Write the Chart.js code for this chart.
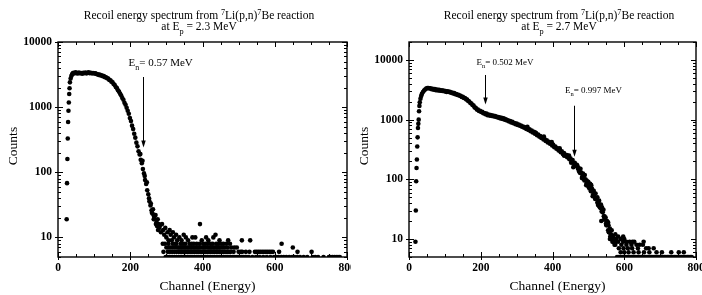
<!DOCTYPE html>
<html><head><meta charset="utf-8">
<script src="https://cdn.jsdelivr.net/npm/chart.js@4"></script>
<style>
html,body{margin:0;padding:0;background:#fff;overflow:hidden;}
#wrap{position:relative;width:702px;height:295px;background:#fff;}
canvas{position:absolute;top:0;}
#c1{left:0}
#c2{left:351px}
</style></head><body>
<div id="wrap"><canvas id="c1" width="351" height="295"></canvas><canvas id="c2" width="351" height="295"></canvas></div>
<script>
// ---------- tick labels ----------
const xTicks = [0, 200, 400, 600, 800];
const yTicks = [10, 100, 1000, 10000];

// ---------- LEFT: Ep = 2.3 MeV ----------
const leftCh = [24,25,26,27,28,29,30,31,32,33,35,37,39,41,
 43,46,49,52,55,58,61,64,67,70,73,76,79,82,85,88,91,94,97,100,103,106,
 109,112,115,118,121,124,127,130,133,136,139,142,145,148,151,154,157,160,163,166,169,172,175,178,181,184,187,190,193,196,199,202,205,208,211,214,217,220,223,226,229,232,235,238,241,244,247,250,253,256,259,262,265,268,271,274,277,280];
const leftCounts = [19,68,160,330,590,880,1180,1590,1950,2400,2750,3000,3180,3300,
 3380,3300,3420,3330,3280,3400,3320,3350,3260,3380,3310,3400,3300,3360,3420,3320,3380,3300,3350,3280,3320,3240,
 3200,3130,3160,3060,3080,2980,2990,2880,2870,2770,2740,2620,2590,2460,2400,2260,2190,2040,1960,1820,1730,1600,1510,1380,1300,1170,1090,980,880,790,680,610,520,460,390,340,285,250,210,188,155,138,112,96,76,66,53,46,36,31,26,23,19,19,16,15,13,14];
// scattered tail points (channel, counts)
const leftScatterCh = [228,234,240,246,252,257,260,263,266,270,273,276,279,282,285,288,291,294,297,300,303,306,309,312,315,318,321,324,327,330,336,342,348,354,360,372,380,393,398,410,416,430,436,447,471,509,532,619,650];
const leftScatterCounts = [190,150,88,70,40,33,24,27,21,22,17,19,16,15,12,16,13,11,14,10,12,9,13,11,9,12,10,8,11,9,10,9,11,10,9,10,10,16,9,10,9,10,11,9,9,9,9,8,7];
// integer-count rows of the flat tail (channels)
const leftRow8 = [290,296,306,318,328,340,346,352,364,370,376,384,392,402,408,414,422,428,438,444,452,458,466,476];
const leftRow7 = [300,306,312,318,324,330,334,338,342,346,350,354,358,362,366,370,374,378,382,386,390,394,400,404,408,414,418,422,426,430,434,438,442,446,450,456,462,470,480,488,495];
const leftRow6 = [292,304,310,316,322,328,334,338,342,346,350,354,358,362,366,370,374,378,382,386,390,394,398,402,406,410,414,418,422,426,430,434,438,442,446,450,454,458,462,466,470,474,478,486,500,506,510,520,530,545,550,555,560,565,570,575,580,585,590,595,612,663,702];
const leftRow5 = [298,303,308,313,318,323,328,333,338,343,348,353,358,363,368,373,378,383,388,393,398,403,408,413,418,423,428,433,438,443,448,453,458,463,468,473,478,483,488,493,498,503,508,513,518,523,528,538,548,558,568,578,588,598,604,610,618,625,632,640,648,655,662,670,680,690,705,712,720,735,750,755,760,765,770,775,780];

// ---------- RIGHT: Ep = 2.7 MeV ----------
const rightCh = [18,19,20,21,22,23,24,25,26,27,28,29,30,32,34,36,39,42,45,48,51,54,57,
 60,63,66,69,72,75,78,81,84,87,90,93,96,99,102,105,108,111,114,117,120,123,126,129,132,135,138,141,144,147,150,153,156,159,162,165,168,171,174,177,180,183,186,189,192,195,198,201,204,207,210,213,216,219,222,225,228,231,234,237,240,243,246,249,252,255,258,261,264,267,270,273,276,279,282,285,288,291,294,297,300,
 303,306,309,312,315,318,321,324,327,330,333,336,339,342,345,348,351,354,357,360,363,366,369,372,375,378,381,384,387,390,393,396,399,402,405,408,411,414,417,420,423,426,429,432,435,438,441,444,447,450,453,456,459,462,465,468,471,474,477,480,483,486,489,492,495,498,501,504,507,510,513,516,519,522,525,528,531,534,537,540,543,546,549,552,555,558,561,564,567,570,573];
const rightCounts = [9,30,93,155,215,355,505,725,850,1000,1380,1700,1950,2250,2500,2700,2900,3080,3200,3330,3380,3400,3320,
 3350,3230,3300,3180,3250,3120,3200,3080,3150,3050,3100,3030,3060,2980,3020,2920,2990,2900,2920,2820,2850,2750,2780,2670,2690,2590,2610,2510,2500,2400,2410,2300,2300,2190,2170,2050,2020,1900,1870,1760,1720,1600,1580,1480,1470,1400,1410,1340,1350,1280,1290,1230,1260,1190,1220,1170,1200,1150,1170,1130,1150,1110,1120,1080,1100,1050,1070,1030,1050,1000,1010,970,980,930,950,900,920,870,880,840,860,
 815,830,790,800,760,770,730,745,700,715,670,690,640,655,610,625,580,595,550,565,520,530,495,500,465,475,440,450,415,425,395,400,370,380,345,355,325,330,305,315,285,295,265,275,250,255,235,240,218,225,203,210,188,190,168,175,150,152,128,130,112,115,96,100,84,86,74,75,63,66,55,56,47,48,41,40,35,33,29,28,24,22,18,17,14,13,11,10,9,9,8];
const rightScatterCh = [330,352,376,398,420,432,440,446,452,458,464,470,474,478,482,485,488,490,494,495,498,500,503,505,508,510,512,515,518,520,525,527,530,532,535,536,538,542,544,545,548,550,552,555,556,557,560,563,565,566,569,571,575,576,583,597,623];
const rightScatterCounts = [760,610,520,420,330,250,255,250,190,160,175,165,135,150,105,125,100,118,80,95,92,90,70,84,80,70,52,64,50,58,50,37,44,34,38,20,34,31,21,24,23,17,20,19,17,13,15,12,14,11,11,10,12,9,11,11,9];
const rightRow10 = [560,566,572,578,590,600];
const rightRow9 = [570,583,597,606,615,628,654];
const rightRow8 = [575,592,606,620,634,643,652];
const rightRow7 = [585,598,610,622,638,661,668,682];
const rightRow6 = [590,600,612,626,640,655,670,690,705,731,752,766];
const rightRow5 = [580,585,590,596,600,604,608,612,616,620,624,628,632,636,640,644,648,652,656,660,664,668,672,676,680,684,688,692,696,700,704,708,712,716,720,724,728,732,736,740,744,748,752,756,760,764,768,772,776,780,784,788];

// ---------- helpers ----------
const SERIF = '"Liberation Serif", "Times New Roman", serif';
function pts(ch, counts) { return ch.map((c, i) => ({x: c, y: counts[i]})); }
function row(ch, v) { return ch.map(c => ({x: c, y: v})); }

function richText(ctx, parts, x, y, size, align) {
  const widths = parts.map(p => {
    ctx.font = (p[1] ? size * 0.72 : size) + 'px ' + SERIF;
    return ctx.measureText(p[0]).width;
  });
  const total = widths.reduce((a, b) => a + b, 0);
  let cx = align === 'center' ? x - total / 2 : x;
  parts.forEach((p, i) => {
    ctx.font = (p[1] ? size * 0.72 : size) + 'px ' + SERIF;
    const dy = p[1] === 1 ? -size * 0.38 : (p[1] === -1 ? size * 0.33 : 0);
    ctx.fillText(p[0], cx, y + dy);
    cx += widths[i];
  });
}

const decor = {
  id: 'decor',
  afterDatasetsDraw(chart, args, o) {
    const {ctx, chartArea: a, scales: {x, y}} = chart;
    ctx.save();
    ctx.strokeStyle = '#000';
    ctx.fillStyle = '#000';
    // frame
    ctx.lineWidth = 1.4;
    ctx.strokeRect(a.left, a.top, a.right - a.left, a.bottom - a.top);
    // x ticks (major every 200, minor every 50), mirrored on top
    ctx.lineWidth = 1;
    ctx.beginPath();
    for (let v = 0; v <= 800; v += 50) {
      const px = Math.round(x.getPixelForValue(v)) + 0.5;
      const major = xTicks.includes(v);
      const L = major ? 5 : 3;
      ctx.moveTo(px, a.bottom + (major ? 3 : 0)); ctx.lineTo(px, a.bottom - L);
      ctx.moveTo(px, a.top); ctx.lineTo(px, a.top + L);
    }
    // y ticks (log: major at decades, minor 2..9)
    for (let e = 0; e <= 4; e++) {
      for (let m = 1; m <= 9; m++) {
        const v = m * Math.pow(10, e);
        if (v < y.min || v > y.max) continue;
        const py = Math.round(y.getPixelForValue(v)) + 0.5;
        const major = m === 1;
        const L = major ? 5 : 3;
        ctx.moveTo(a.left - (major ? 3 : 0), py); ctx.lineTo(a.left + L, py);
        ctx.moveTo(a.right, py); ctx.lineTo(a.right - L, py);
      }
    }
    ctx.stroke();
    // arrows + labels
    o.arrows.forEach(ar => {
      const px = Math.round(x.getPixelForValue(ar.ch)) + 0.5;
      const y0 = y.getPixelForValue(ar.from);
      const y1 = y.getPixelForValue(ar.to);
      ctx.lineWidth = 1;
      ctx.beginPath(); ctx.moveTo(px, y0); ctx.lineTo(px, y1 - 3); ctx.stroke();
      ctx.beginPath(); ctx.moveTo(px, y1); ctx.lineTo(px - 2.2, y1 - 7); ctx.lineTo(px + 2.2, y1 - 7); ctx.closePath(); ctx.fill();
      ctx.textAlign = 'left'; ctx.textBaseline = 'alphabetic';
      richText(ctx, [['E', 0], ['n', -1], ['= ' + ar.text, 0]], px + ar.dx, ar.baseline, ar.size, 'left');
    });
    // title
    ctx.textAlign = 'left'; ctx.textBaseline = 'alphabetic';
    richText(ctx, [['Recoil energy spectrum from ', 0], ['7', 1], ['Li(p,n)', 0], ['7', 1], ['Be reaction', 0]], o.titleX, 19, 11.5, 'center');
    richText(ctx, [['at E', 0], ['p', -1], [' = ' + o.ep, 0]], o.titleX, 30, 11.5, 'center');
    // axis titles
    ctx.font = '13.5px ' + SERIF;
    ctx.textAlign = 'center';
    ctx.fillText('Channel (Energy)', (a.left + a.right) / 2 + 5, 290);
    ctx.save();
    ctx.translate(17, 146);
    ctx.rotate(-Math.PI / 2);
    ctx.fillText('Counts', 0, 0);
    ctx.restore();
    ctx.restore();
  }
};

function makeChart(id, datasets, yMax, padRight, decorOpts) {
  const style = {showLine: false, pointRadius: 2.3, pointBorderWidth: 0, pointBackgroundColor: '#000', borderColor: '#000', pointHoverRadius: 2.3};
  return new Chart(document.getElementById(id), {
    type: 'scatter',
    data: {datasets: datasets.map(d => Object.assign({data: d}, style))},
    options: {
      responsive: false, animation: false, devicePixelRatio: 1,
      layout: {padding: {left: 0, top: 42, right: padRight, bottom: 0}},
      plugins: {legend: {display: false}, tooltip: {enabled: false}, decor: decorOpts},
      events: [],
      scales: {
        x: {
          type: 'linear', min: 0, max: 800,
          grid: {display: false, drawTicks: false}, border: {display: false},
          afterBuildTicks: s => { s.ticks = xTicks.map(v => ({value: v})); },
          ticks: {autoSkip: false, maxRotation: 0, padding: 4, color: '#000',
                  font: {family: SERIF, size: 11.5, weight: 'bold'}, callback: v => String(v)},
          afterFit: s => { s.height = 38; s.paddingLeft = 0; s.paddingRight = 0; }
        },
        y: {
          type: 'logarithmic', min: 5, max: yMax,
          grid: {display: false, drawTicks: false}, border: {display: false},
          afterBuildTicks: s => { s.ticks = yTicks.map(v => ({value: v})); },
          ticks: {autoSkip: false, padding: 6, color: '#000',
                  font: {family: SERIF, size: 11.5, weight: 'bold'}, callback: v => String(v)},
          afterFit: s => { s.width = 58; s.paddingTop = 0; s.paddingBottom = 0; }
        }
      }
    },
    plugins: [decor]
  });
}

makeChart('c1', [
  pts(leftCh, leftCounts), pts(leftScatterCh, leftScatterCounts),
  row(leftRow8, 8), row(leftRow7, 7), row(leftRow6, 6), row(leftRow5, 5)
], 10000, 4, {
  titleX: 199, ep: '2.3 MeV',
  arrows: [{ch: 234, from: 2900, to: 240, text: '0.57 MeV', dx: -15, baseline: 66, size: 11}]
});

makeChart('c2', [
  pts(rightCh, rightCounts), pts(rightScatterCh, rightScatterCounts),
  row(rightRow10, 10), row(rightRow9, 9), row(rightRow8, 8), row(rightRow7, 7), row(rightRow6, 6), row(rightRow5, 5)
], 20000, 6, {
  titleX: 208, ep: '2.7 MeV',
  arrows: [
    {ch: 213, from: 5600, to: 1800, text: '0.502 MeV', dx: -9, baseline: 65, size: 9},
    {ch: 459, from: 1710, to: 240, text: '0.997 MeV', dx: -9.5, baseline: 93, size: 9}
  ]
});
</script>
</body></html>
